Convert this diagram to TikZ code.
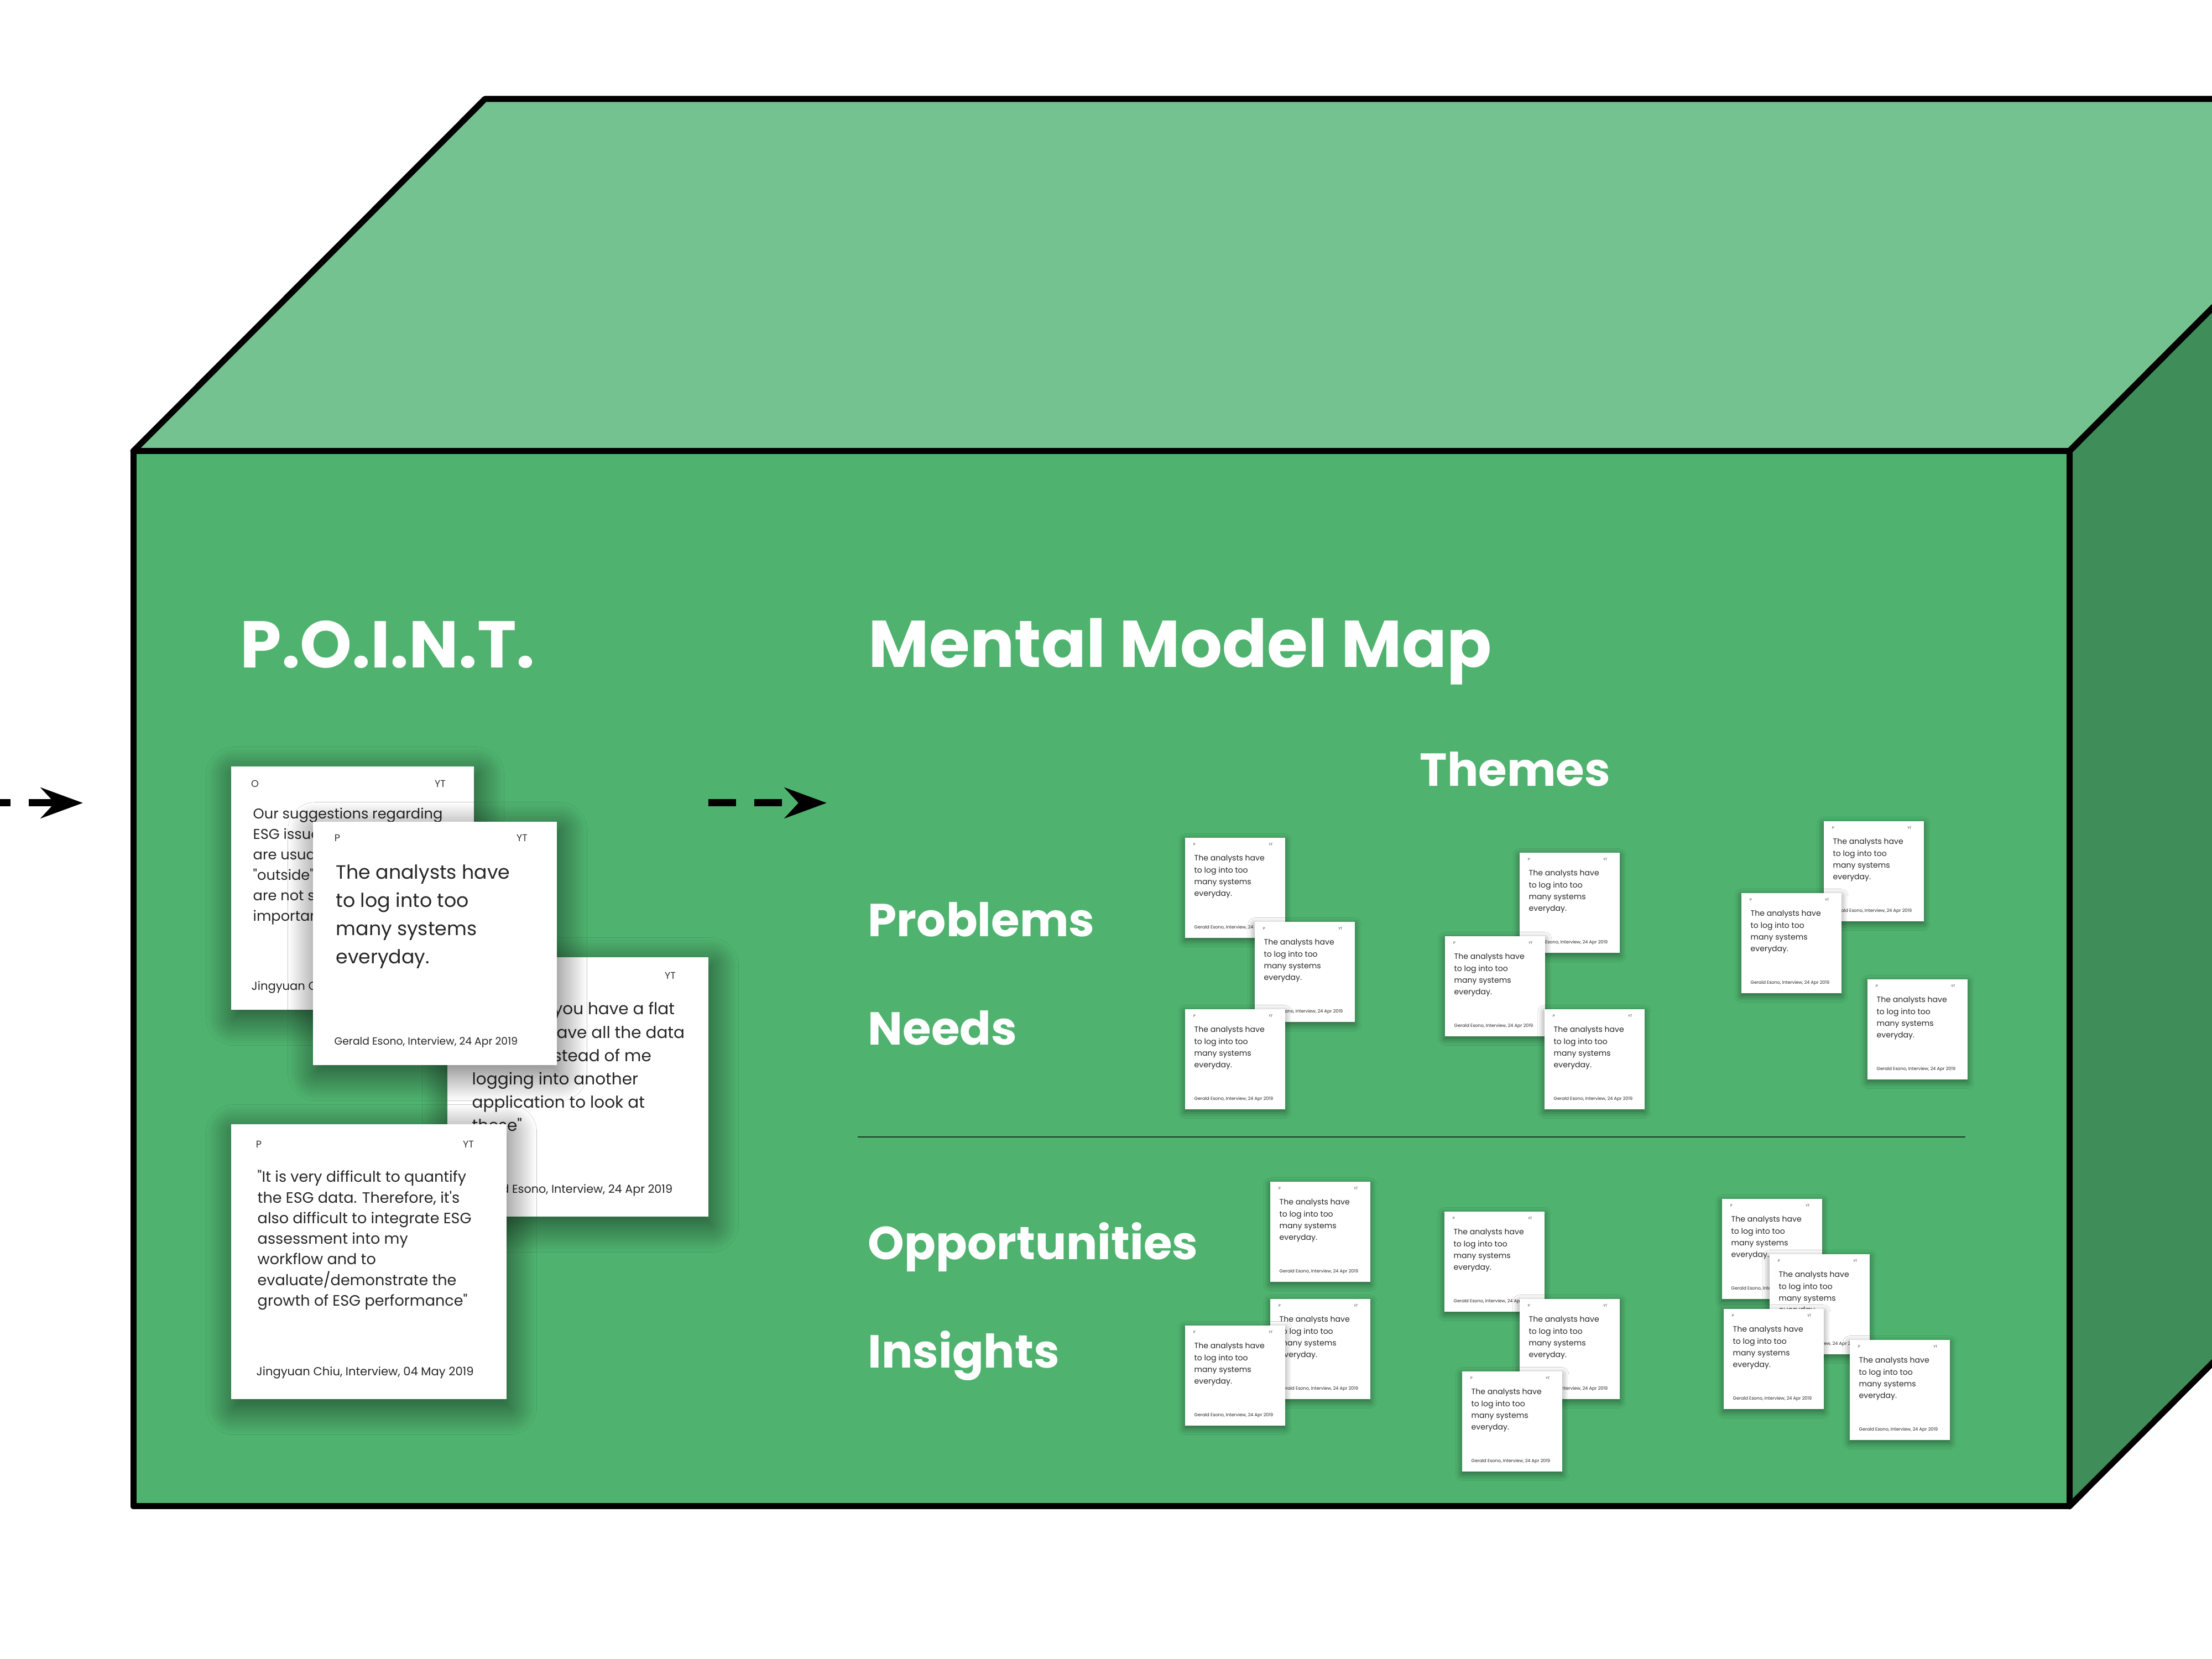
\documentclass[tikz,border=0pt]{standalone}
\usepackage{fontspec}
\setmainfont{Poppins}[Ligatures=TeXOff]
\usetikzlibrary{arrows.meta, shadows.blur}

\definecolor{topgreen}{RGB}{116,194,143}
\definecolor{frontgreen}{RGB}{79,179,111}
\definecolor{sidegreen}{RGB}{63,141,89}

\tikzset{
  face/.style={draw=black, line width=0.11cm, line join=round},
  title/.style={anchor=base west, inner sep=0, text=white, font=\fontsize{34}{40}\selectfont\bfseries},
  theme/.style={anchor=base west, inner sep=0, text=white, font=\fontsize{23.8}{28}\selectfont\bfseries},
  flow/.style={line width=0.13cm, dash pattern=on 0.5cm off 0.33cm, -{Stealth[length=0.76cm, width=0.55cm, inset=0.25cm]}},
  card/.style={fill=white, inner sep=0, anchor=north west,
    blur shadow={shadow xshift=0.05cm, shadow yshift=-0.15cm, shadow blur radius=0.5cm, shadow blur steps=30, shadow opacity=60}},
  memo/.style={fill=white, inner sep=0, anchor=north west, minimum width=1.81cm, minimum height=1.81cm,
    blur shadow={shadow xshift=0cm, shadow yshift=-0.05cm, shadow blur radius=0.12cm, shadow blur steps=12, shadow opacity=45}},
  tag/.style={inner sep=0, text=black!80},
  line/.style={anchor=base west, inner sep=0, text=black!85},
}

% one small interview card, top left corner at (#2,#3)
\newcommand{\memo}[3]{%
  \node[memo] (#1) at (#2,#3) {};
  \node[tag, font=\fontsize{1.8}{2}\selectfont] (#1-p) at ([shift={(0.18,-0.13)}]#1.north west) {P};
  \node[tag, font=\fontsize{1.8}{2}\selectfont] (#1-yt) at ([shift={(1.56,-0.13)}]#1.north west) {YT};
  \node[line, font=\fontsize{4.0}{6}\selectfont] (#1-txt) at ([shift={(0.17,-0.43)}]#1.north west)
    {\parbox[t]{5cm}{The analysts have\\to log into too\\many systems\\everyday.}};
  \node[line, font=\fontsize{2.3}{3}\selectfont] (#1-src) at ([shift={(0.17,-1.66)}]#1.north west)
    {Gerald Esono, Interview, 24 Apr 2019};
}

\begin{document}
\begin{tikzpicture}
  \useasboundingbox (0,0) rectangle (40,30);
  \clip (0,0) rectangle (40,30);
  \fill[white] (0,0) rectangle (40,30);

  % Draw Box
  \filldraw[face, fill=topgreen] (2.41,21.84) -- (8.77,28.21) -- (43.78,28.21) -- (37.42,21.84) -- cycle;
  \filldraw[face, fill=sidegreen] (37.42,21.84) -- (43.78,28.21) -- (43.78,9.13) -- (37.42,2.76) -- cycle;
  \filldraw[face, fill=frontgreen] (2.41,2.76) rectangle (37.42,21.84);

  % Headings
  \node[title] (point) at (4.34,17.92) {P.O.I.N.T.};
  \node[title] (mmm) at (15.70,17.93) {Mental Model Map};
  \node[theme] (themes) at (25.67,15.78) {Themes};
  \node[theme] (problems) at (15.69,13.06) {Problems};
  \node[theme] (needs) at (15.69,11.10) {Needs};
  \node[theme] (opps) at (15.69,7.22) {Opportunities};
  \node[theme] (insights) at (15.69,5.26) {Insights};

  % Divider
  \draw[line width=0.025cm, black!70!frontgreen] (15.51,9.44) -- (35.54,9.44);

  % Arrows
  \coordinate (in0) at (-0.31,15.48);
  \coordinate (in1) at (1.50,15.48);
  \coordinate (out0) at (12.81,15.48);
  \coordinate (out1) at (14.95,15.48);
  \draw[flow] (in0) -- (in1);
  \draw[flow] (out0) -- (out1);

  % P.O.I.N.T. cards
  \node[card, minimum width=4.39cm, minimum height=4.40cm] (cardO) at (4.17,16.15) {};
  \node[tag, font=\fontsize{5}{6}\selectfont] at ([shift={(0.44,-0.32)}]cardO.north west) {O};
  \node[tag, font=\fontsize{5}{6}\selectfont] at ([shift={(3.79,-0.32)}]cardO.north west) {YT};
  \node[line, font=\fontsize{7.3}{10.5}\selectfont] at ([shift={(0.40,-0.96)}]cardO.north west)
    {\parbox[t]{8cm}{Our suggestions regarding\\ESG issues\\are usually\\"outside" and\\are not seen as\\important.}};
  \node[line, font=\fontsize{6.0}{6}\selectfont] at ([shift={(0.37,-4.06)}]cardO.north west)
    {Jingyuan Chiu, Interview, 04 May 2019};

  \node[card, minimum width=4.72cm, minimum height=4.69cm] (cardF) at (8.08,12.70) {};
  \node[tag, font=\fontsize{5}{6}\selectfont] at ([shift={(0.45,-0.34)}]cardF.north west) {P};
  \node[tag, font=\fontsize{5}{6}\selectfont] at ([shift={(4.04,-0.34)}]cardF.north west) {YT};
  \node[line, font=\fontsize{8.4}{12}\selectfont] at ([shift={(0.45,-1.05)}]cardF.north west)
    {\parbox[t]{8cm}{"It helps if you have a flat\\files that have all the data\\at once instead of me\\logging into another\\application to look at\\these"}};
  \node[line, font=\fontsize{5.9}{6}\selectfont] at ([shift={(0.42,-4.28)}]cardF.north west)
    {Gerald Esono, Interview, 24 Apr 2019};

  \node[card, minimum width=4.41cm, minimum height=4.40cm] (cardP) at (5.65,15.15) {};
  \node[tag, font=\fontsize{5}{6}\selectfont] at ([shift={(0.45,-0.30)}]cardP.north west) {P};
  \node[tag, font=\fontsize{5}{6}\selectfont] at ([shift={(3.79,-0.30)}]cardP.north west) {YT};
  \node[line, font=\fontsize{9.9}{14.5}\selectfont] at ([shift={(0.42,-1.05)}]cardP.north west)
    {\parbox[t]{8cm}{The analysts have\\to log into too\\many systems\\everyday.}};
  \node[line, font=\fontsize{5.35}{6}\selectfont] at ([shift={(0.39,-4.05)}]cardP.north west)
    {Gerald Esono, Interview, 24 Apr 2019};

  \node[card, minimum width=4.98cm, minimum height=4.97cm] (cardQ) at (4.17,9.68) {};
  \node[tag, font=\fontsize{5}{6}\selectfont] at ([shift={(0.51,-0.37)}]cardQ.north west) {P};
  \node[tag, font=\fontsize{5}{6}\selectfont] at ([shift={(4.30,-0.37)}]cardQ.north west) {YT};
  \node[line, font=\fontsize{7.7}{10.6}\selectfont] at ([shift={(0.48,-1.06)}]cardQ.north west)
    {\parbox[t]{8cm}{"It is very difficult to quantify\\the ESG data. Therefore, it's\\also difficult to integrate ESG\\assessment into my\\workflow and to\\evaluate/demonstrate the\\growth of ESG performance"}};
  \node[line, font=\fontsize{6.0}{6}\selectfont] at ([shift={(0.46,-4.56)}]cardQ.north west)
    {Jingyuan Chiu, Interview, 04 May 2019};

  % Problems and needs
  \memo{a}{21.42}{14.86}
  \memo{b}{22.68}{13.34}
  \memo{c}{21.42}{11.76}
  \memo{d}{27.47}{14.59}
  \memo{e}{26.12}{13.08}
  \memo{f}{27.92}{11.76}
  \memo{g}{32.97}{15.16}
  \memo{h}{31.48}{13.86}
  \memo{i}{33.76}{12.30}

  % Opportunities and insights
  \memo{j}{22.96}{8.64}
  \memo{k}{22.96}{6.52}
  \memo{l}{21.42}{6.04}
  \memo{m}{26.11}{8.10}
  \memo{n}{27.47}{6.52}
  \memo{o}{26.43}{5.21}
  \memo{q}{31.13}{8.33}
  \memo{r}{31.99}{7.33}
  \memo{s}{31.16}{6.34}
  \memo{t}{33.44}{5.78}
\end{tikzpicture}
\end{document}
